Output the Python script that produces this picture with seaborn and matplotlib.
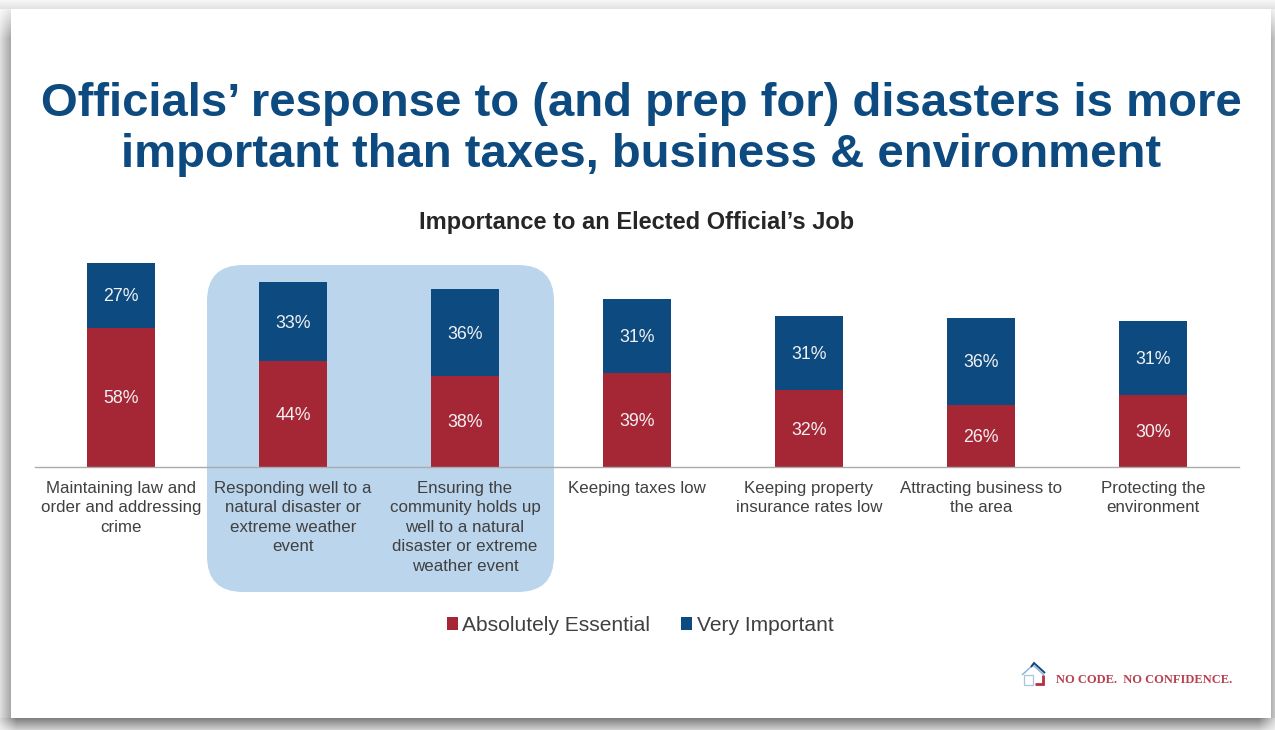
import numpy as np
import pandas as pd
import seaborn as sns
import matplotlib
matplotlib.use("Agg")
import matplotlib.pyplot as plt
from matplotlib.patches import FancyBboxPatch, Patch, Polygon, Rectangle

categories = [
    "Maintaining law and\norder and addressing\ncrime",
    "Responding well to a\nnatural disaster or\nextreme weather\nevent",
    "Ensuring the\ncommunity holds up\nwell to a natural\ndisaster or extreme\nweather event",
    "Keeping taxes low",
    "Keeping property\ninsurance rates low",
    "Attracting business to\nthe area",
    "Protecting the\nenvironment",
]
absolutely_essential = [58, 44, 38, 39, 32, 26, 30]
very_important = [27, 33, 36, 31, 31, 36, 31]

title_text = "Officials’ response to (and prep for) disasters is more\nimportant than taxes, business & environment"
subtitle_text = "Importance to an Elected Official’s Job"
series_names = ["Absolutely Essential", "Very Important"]

RED = "#A52736"
BLUE = "#0C4A80"
HIGHLIGHT = "#BBD5EC"
TEXT = "#404040"

sns.set_theme(style="white")
plt.rcParams["font.family"] = ["Liberation Sans", "DejaVu Sans"]

W, H = 1275, 730
fig = plt.figure(figsize=(W / 100, H / 100), dpi=100, facecolor="white")

# Page layer in pixel units: slide shadow, highlight panel, logo
page = fig.add_axes([0, 0, 1, 1], zorder=0)
page.axis("off")

# Soft grey shadow around the white slide
left, right, top, bottom = 11, 1271, 9, 718
shade = np.full((H, W), 255.0)
fade_y = np.clip(np.arange(H) / 38.0, 0, 1)[:, None]
fade_x = np.clip(np.minimum(np.arange(W), W - 1 - np.arange(W)) / 16.0, 0, 1)
shade[:, :left] = 255 - (255 - np.linspace(222, 168, left)) * fade_y
shade[:, right:] = 255 - (255 - np.linspace(180, 195, W - right)) * fade_y
shade[:top, :] = np.minimum(shade[:top, :], np.linspace(246, 226, top)[:, None])
shade[bottom:, :] = 255 - (255 - np.linspace(128, 205, H - bottom)[:, None]) * (0.35 + 0.65 * fade_x)
shade[top:bottom, left:right] = 255
page.imshow(shade, cmap="gray", vmin=0, vmax=255, extent=(0, W, H, 0),
            aspect="auto", interpolation="nearest")
page.set_xlim(0, W)
page.set_ylim(H, 0)

page.add_patch(FancyBboxPatch((207 + 36, 265 + 36), 347 - 72, 327 - 72,
                              boxstyle="round,pad=36,rounding_size=36",
                              facecolor=HIGHLIGHT, edgecolor="none"))

# House emblem beside the tagline
page.add_patch(Polygon([(1022, 675), (1033, 665), (1044, 675)], closed=False,
                       fill=False, edgecolor="#8FB4D2", linewidth=1.1))
page.add_patch(Polygon([(1031, 667), (1034, 663), (1045, 673)], closed=False,
                       fill=False, edgecolor=BLUE, linewidth=1.4))
page.add_patch(Rectangle((1024, 675), 9, 10, facecolor="none",
                         edgecolor="#A9C5DC", linewidth=0.9))
page.add_patch(Polygon([(1043, 675), (1043, 684), (1035, 684)], closed=False,
                       fill=False, edgecolor="#B5303F", linewidth=2))
page.text(1056, 680, "NO CODE.  NO CONFIDENCE.", family="Liberation Serif",
          weight="bold", fontsize=9.0, color="#B8404F", ha="left", va="center")

page.text(641, 129.5, title_text, fontsize=34, weight="bold", color=BLUE,
          ha="center", va="center", linespacing=1.21)
page.text(637, 222, subtitle_text, fontsize=17, weight="bold", color="#262626",
          ha="center", va="center")

# Stacked columns: totals behind, the lower series in front
data = pd.DataFrame({
    "category": categories,
    "essential": absolutely_essential,
    "important": very_important,
})
data["total"] = data["essential"] + data["important"]

axis_left, axis_right, axis_base, axis_top = 35, 1239, 467, 240
px_per_point = 2.4
ax = fig.add_axes([axis_left / W, 1 - axis_base / H,
                   (axis_right - axis_left) / W, (axis_base - axis_top) / H],
                  zorder=1)
ax.patch.set_alpha(0)

sns.barplot(data=data, x="category", y="total", color=BLUE, width=0.4,
            saturation=1, linewidth=0, ax=ax)
sns.barplot(data=data, x="category", y="essential", color=RED, width=0.4,
            saturation=1, linewidth=0, ax=ax)
ax.set_xlim(-0.5, len(categories) - 0.5)
ax.set_ylim(0, (axis_base - axis_top) / px_per_point)
ax.set_xlabel("")
ax.set_ylabel("")
ax.set_yticks([])
ax.tick_params(axis="x", length=0, pad=10, labelsize=12.2, labelcolor=TEXT)
for label in ax.get_xticklabels():
    label.set_linespacing(1.37)
    label.set_ha("center")
for name in ["top", "left", "right"]:
    ax.spines[name].set_visible(False)
ax.spines["bottom"].set_color("#ABABAB")
ax.spines["bottom"].set_linewidth(1)

for i, (low, high) in enumerate(zip(absolutely_essential, very_important)):
    ax.text(i, low / 2 - 0.6, f"{low}%", color="#F2F2F2", fontsize=12.8,
            ha="center", va="center")
    ax.text(i, low + high / 2 - 0.6, f"{high}%", color="#F2F2F2", fontsize=12.8,
            ha="center", va="center")

handles = [Patch(facecolor=RED, edgecolor="none"),
           Patch(facecolor=BLUE, edgecolor="none")]
fig.legend(handles, series_names, loc="center", bbox_to_anchor=(640 / W, 1 - 625.5 / H),
           ncols=2, frameon=False, fontsize=15.1, labelcolor=TEXT,
           handlelength=0.55, handleheight=0.55, handletextpad=0.2,
           columnspacing=1.45, borderpad=0)

fig.savefig("out.png", dpi=100)
